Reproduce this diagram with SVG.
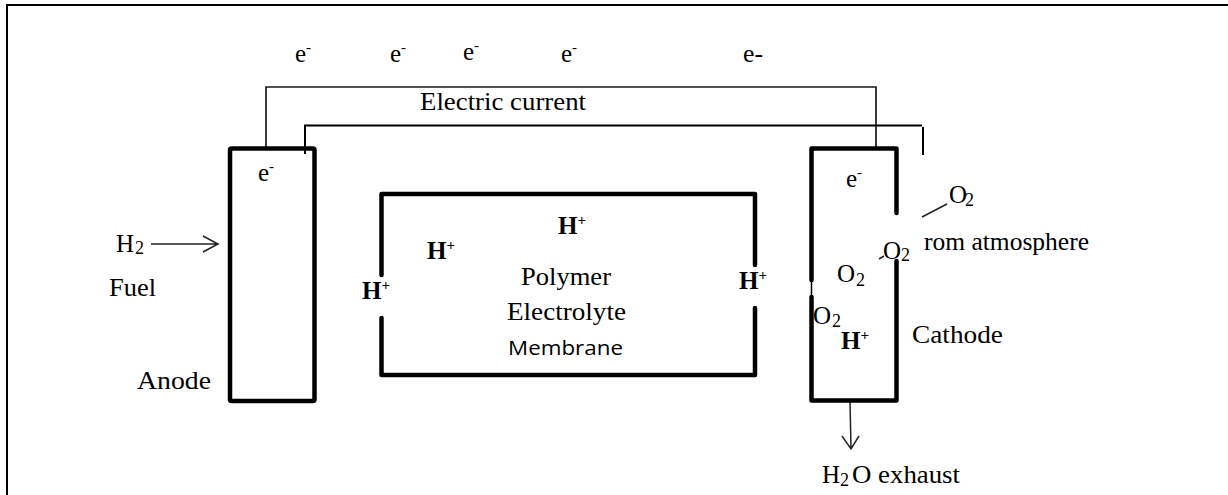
<svg xmlns="http://www.w3.org/2000/svg" width="1228" height="495" viewBox="0 0 1228 495">
<style>
.t{font-family:"Liberation Serif","Times New Roman",serif;font-size:25px;fill:#000}
.b{font-family:"Liberation Serif","Times New Roman",serif;font-size:25px;font-weight:bold;fill:#000}
.s{font-family:"Open Sans","Liberation Sans",Arial,sans-serif;font-size:20px;fill:#000}
.sup{font-size:15px}
.sub{font-size:18px}
.box{fill:none;stroke:#000;stroke-width:4.5;stroke-linejoin:round;stroke-linecap:round}
.wire{fill:none;stroke:#1a1a1a;stroke-width:1.7}
.wire2{fill:none;stroke:#000;stroke-width:2}
.arr{fill:none;stroke:#222;stroke-width:1.5}
</style>
<rect width="1228" height="495" fill="#fff"/>
<g id="frame">
<path d="M7,495 V5 H1228" fill="none" stroke="#000" stroke-width="2"/>
</g>
<g id="connectors">
<path class="wire" d="M266,148 V87 H876 V148"/>
<path class="wire2" d="M305,154 V125.5 H922"/>
<path class="wire2" d="M923,127 V155"/>
<path class="arr" d="M151,244 H218 M203,236 L218,244 L203,252"/>
<path class="arr" d="M850,402 L851,448 M842,436 L851,449 L859,436"/>
<path class="arr" stroke="#444" d="M922,217 L947,204"/>
<path class="arr" d="M879,259 L884,256"/>
</g>
<g id="electrons">
<text class="t" x="295" y="62">e<tspan class="sup" dy="-10">-</tspan></text>
<text class="t" x="390" y="62">e<tspan class="sup" dy="-10">-</tspan></text>
<text class="t" x="463" y="60">e<tspan class="sup" dy="-10">-</tspan></text>
<text class="t" x="561" y="62">e<tspan class="sup" dy="-10">-</tspan></text>
<text class="t" x="743" y="62" textLength="20" lengthAdjust="spacingAndGlyphs">e-</text>
<text class="t" x="420" y="110" textLength="166" lengthAdjust="spacingAndGlyphs">Electric current</text>
</g>
<g id="anode">
<rect class="box" x="230" y="148.5" width="84.5" height="252.5" rx="1.5"/>
<text class="t" x="258" y="181">e<tspan class="sup" dy="-10">-</tspan></text>
<text class="t" x="137" y="389" textLength="74" lengthAdjust="spacingAndGlyphs">Anode</text>
</g>
<g id="fuel">
<text class="t" x="116" y="252">H</text>
<text class="t sub" x="135" y="254">2</text>
<text class="t" x="109" y="296" textLength="47" lengthAdjust="spacingAndGlyphs">Fuel</text>
</g>
<g id="membrane">
<path class="box" d="M381.5,275 V194 H755 V265 M755,308 V375 H381.5 V318"/>
<text class="b" x="558" y="234">H<tspan class="sup" dy="-9">+</tspan></text>
<text class="b" x="427" y="259">H<tspan class="sup" dy="-9">+</tspan></text>
<text class="b" x="362" y="299">H<tspan class="sup" dy="-9">+</tspan></text>
<text class="b" x="739" y="289">H<tspan class="sup" dy="-9">+</tspan></text>
<text class="t" x="521" y="285" textLength="90" lengthAdjust="spacingAndGlyphs">Polymer</text>
<text class="t" x="507" y="320" textLength="119" lengthAdjust="spacingAndGlyphs">Electrolyte</text>
<text class="s" x="508" y="355" textLength="115" lengthAdjust="spacingAndGlyphs">Membrane</text>
</g>
<g id="cathode">
<path class="box" d="M811.5,280 V148.5 H896.5 V213 M896.5,261 V400.5 H811.5 V297"/>
<path d="M811.5,280 V297" stroke="#000" stroke-width="1.5"/>
<text class="t" x="846" y="187">e<tspan class="sup" dy="-10">-</tspan></text>
<text class="t" x="837" y="282">O</text>
<text class="t sub" x="856" y="286">2</text>
<text class="t" x="813" y="324">O</text>
<text class="t sub" x="832" y="327">2</text>
<text class="b" x="841" y="349">H<tspan class="sup" dy="-9">+</tspan></text>
<text class="t" x="912" y="343" textLength="91" lengthAdjust="spacingAndGlyphs">Cathode</text>
</g>
<g id="oxygen">
<text class="t" x="949" y="203">O</text>
<text class="t sub" x="965" y="206">2</text>
<text class="t" x="883" y="259">O</text>
<text class="t sub" x="901" y="261">2</text>
<text class="t" x="924" y="250" textLength="165" lengthAdjust="spacingAndGlyphs">rom atmosphere</text>
</g>
<g id="exhaust">
<text class="t" x="822" y="483">H</text>
<text class="t sub" x="840" y="486">2</text>
<text class="t" x="852" y="483" textLength="108" lengthAdjust="spacingAndGlyphs">O exhaust</text>
</g>
</svg>
